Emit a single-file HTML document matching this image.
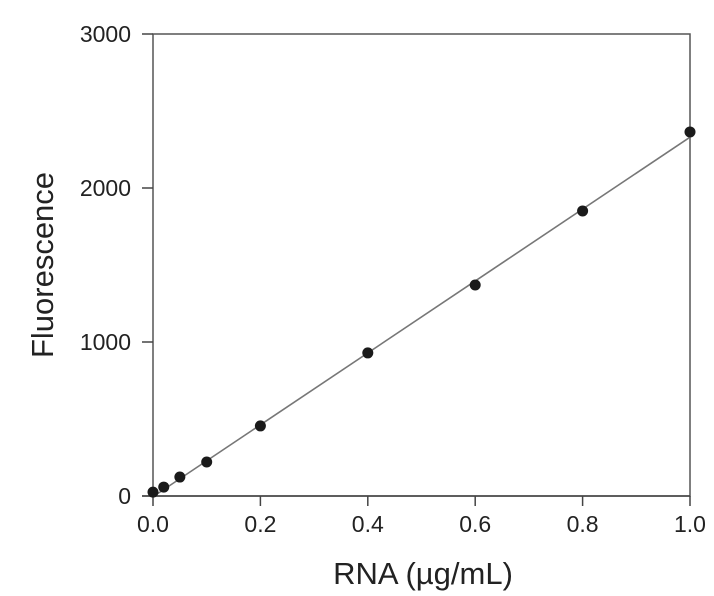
<!DOCTYPE html>
<html><head><meta charset="utf-8"><style>
html,body{margin:0;padding:0;background:#fff;}
svg{display:block;font-family:"Liberation Sans",Arial,sans-serif;}
</style></head><body>
<svg width="714" height="596" viewBox="0 0 714 596">
<g id="axes"></g>
<g id="marks"></g>
</svg>
<script>
const xValues=[0,0.02,0.05,0.1,0.2,0.4,0.6,0.8,1.0];
const yValues=[25,58,123,221,455,929,1370,1851,2364];
const fitSlope=2335;
const fitIntercept=-5;
const xTicks=[0,0.2,0.4,0.6,0.8,1.0];
const xTickLabels=["0.0","0.2","0.4","0.6","0.8","1.0"];
const yTicks=[0,1000,2000,3000];
const yTickLabels=["0","1000","2000","3000"];

const L=153,R=690,T=34,B=496;
const xs=v=>L+(R-L)*v/1.0;
const ys=v=>B-(B-T)*v/3000;
const NS="http://www.w3.org/2000/svg";
const axes=document.getElementById('axes'),marks=document.getElementById('marks');
function mk(tag,attrs,parent,txt){const e=document.createElementNS(NS,tag);for(const k in attrs)e.setAttribute(k,attrs[k]);if(txt!==undefined)e.textContent=txt;parent.appendChild(e);return e;}

let f=mk('rect',{x:L,y:T,width:R-L,height:B-T,fill:'none',stroke:'#555','stroke-width':1.5},axes);


let xl=mk('line',{x1:L-11,y1:B,x2:R,y2:B,stroke:'#444','stroke-width':1.5},axes);


xTicks.forEach((t,i)=>{
  let tk=mk('line',{x1:xs(t),y1:B,x2:xs(t),y2:B+10,stroke:'#444','stroke-width':1.5},axes);
  
  
  let lb=mk('text',{x:xs(t),y:B+36,'text-anchor':'middle','font-size':23,fill:'#222'},axes,xTickLabels[i]);
  
  
});
yTicks.forEach((t,i)=>{
  let tk=mk('line',{x1:L-11,y1:ys(t),x2:L,y2:ys(t),stroke:'#444','stroke-width':1.5},axes);
  
  
  let lb=mk('text',{x:L-22,y:ys(t)+8,'text-anchor':'end','font-size':23,fill:'#222'},axes,yTickLabels[i]);
  
  
});
let xt=mk('text',{x:423,y:584,'text-anchor':'middle','font-size':31,fill:'#222'},axes,'RNA (µg/mL)');


let yt=mk('text',{x:0,y:0,'text-anchor':'middle','font-size':31,fill:'#222',transform:'translate(53,265) rotate(-90)'},axes,'Fluorescence');



let fl=mk('line',{x1:xs(0),y1:ys(fitIntercept),x2:xs(1),y2:ys(fitIntercept+fitSlope),stroke:'#777','stroke-width':1.6},marks);


xValues.forEach((x,i)=>{
  let c=mk('circle',{cx:xs(x),cy:ys(yValues[i]),r:5.5,fill:'#1a1a1a'},marks);
  
  
});
</script>
</body></html>
